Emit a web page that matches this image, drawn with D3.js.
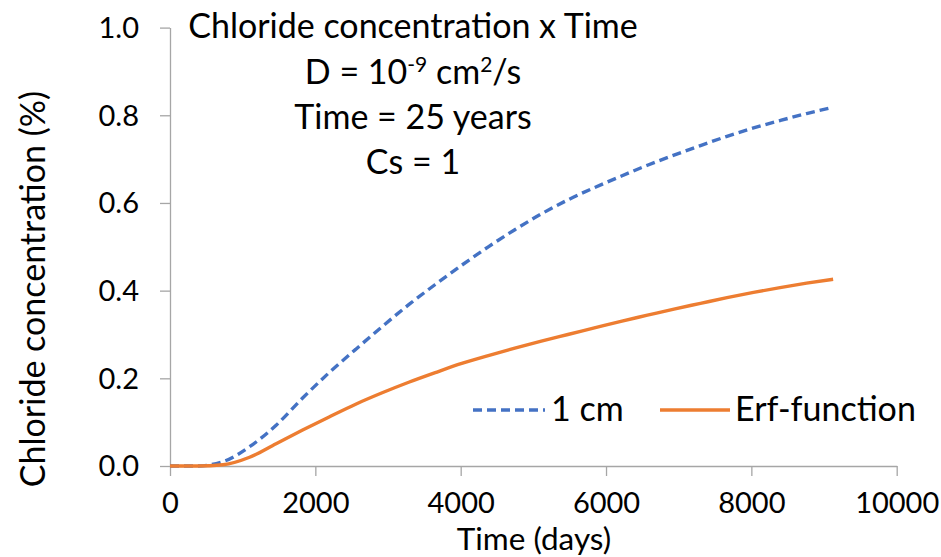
<!DOCTYPE html>
<html>
<head>
<meta charset="utf-8">
<script src="https://cdn.jsdelivr.net/npm/d3@7/dist/d3.min.js"></script>
<style>
  html, body { margin: 0; padding: 0; background: #fff; }
  svg { display: block; }
  text { font-family: Lato, "Open Sans", sans-serif; fill: #000; }
</style>
</head>
<body>
<svg id="chart" width="941" height="557"></svg>
<script>
// Exposure time in days (one reading per year, 0–25 years)
const days = [0, 365, 730, 1095, 1460, 1825, 2190, 2555, 2920, 3285, 3650, 4015, 4380,
  4745, 5110, 5475, 5840, 6205, 6570, 6935, 7300, 7665, 8030, 8395, 8760, 9125];

// Chloride concentration at 1 cm depth (numerical model)
const conc1cm = [0, 0.000, 0.010, 0.044, 0.093, 0.155, 0.213, 0.266, 0.318, 0.368, 0.414, 0.458, 0.500,
  0.539, 0.575, 0.607, 0.635, 0.661, 0.686, 0.709, 0.731, 0.752, 0.771, 0.788, 0.804, 0.818];

// Chloride concentration from the error-function solution
const concErf = [0, 0.000, 0.003, 0.020, 0.051, 0.082, 0.112, 0.141, 0.167, 0.191, 0.213, 0.234, 0.252,
  0.269, 0.285, 0.300, 0.315, 0.330, 0.344, 0.358, 0.371, 0.384, 0.396, 0.407, 0.417, 0.426];

const xTicks = [0, 2000, 4000, 6000, 8000, 10000];
const yTicks = [0, 0.2, 0.4, 0.6, 0.8, 1.0];

const seriesNames = ["1 cm", "Erf-function"];
const seriesColors = ["#4472C4", "#ED7D31"];

const svg = d3.select("#chart");

const x = d3.scaleLinear().domain([0, 10000]).range([170, 896.7]);
const y = d3.scaleLinear().domain([0, 1]).range([466, 27.6]);

const axisColor = "#a6a6a6";

// X axis
const gx = svg.append("g").attr("transform", `translate(0,${y(0)})`)
  .call(d3.axisBottom(x).tickValues(xTicks).tickSize(10).tickSizeOuter(0).tickPadding(8).tickFormat(d3.format("d")));
gx.select(".domain").attr("stroke", axisColor).attr("stroke-width", 1.3);
gx.selectAll(".tick line").attr("stroke", axisColor).attr("stroke-width", 1.3);
gx.selectAll(".tick text").attr("font-size", 29).attr("font-family", "Lato").attr("fill", "#000")
  .attr("dy", null).attr("y", 47);

// Y axis
const gy = svg.append("g").attr("transform", `translate(${x(0)},0)`)
  .call(d3.axisLeft(y).tickValues(yTicks).tickSize(10).tickSizeOuter(0).tickPadding(21).tickFormat(d3.format(".1f")));
gy.select(".domain").attr("stroke", axisColor).attr("stroke-width", 1.3);
gy.selectAll(".tick line").attr("stroke", axisColor).attr("stroke-width", 1.3);
gy.selectAll(".tick text").attr("font-size", 29).attr("font-family", "Lato").attr("fill", "#000")
  .attr("dy", "0.34em");

// Series lines
const line = d3.line().x(d => x(d[0])).y(d => y(d[1])).curve(d3.curveMonotoneX);

const series = [conc1cm, concErf];
series.forEach((vals, i) => {
  svg.append("path")
    .datum(days.map((d, k) => [d, vals[k]]))
    .attr("fill", "none")
    .attr("stroke", seriesColors[i])
    .attr("stroke-width", 3.4)
    .attr("stroke-dasharray", i === 0 ? "9,5" : null)
    .attr("stroke-linejoin", "round")
    .attr("d", line);
});

// Annotation block
const noteSize = 34;
svg.append("text").attr("text-anchor", "middle").attr("font-size", noteSize)
  .attr("x", 413).attr("y", 38).text("Chloride concentration x Time");
const l2 = svg.append("text").attr("text-anchor", "middle").attr("font-size", noteSize).attr("x", 413).attr("y", 84);
l2.append("tspan").text("D = 10");
l2.append("tspan").attr("dy", -12).attr("font-size", 21).text("-9");
l2.append("tspan").attr("dy", 12).text(" cm");
l2.append("tspan").attr("dy", -12).attr("font-size", 21).text("2");
l2.append("tspan").attr("dy", 12).text("/s");
svg.append("text").attr("text-anchor", "middle").attr("font-size", noteSize)
  .attr("x", 413).attr("y", 129).text("Time = 25 years");
svg.append("text").attr("text-anchor", "middle").attr("font-size", noteSize)
  .attr("x", 413).attr("y", 174).text("Cs = 1");

// Axis titles
svg.append("text").attr("text-anchor", "middle").attr("font-size", 31.5)
  .attr("x", 534).attr("y", 550).text("Time (days)");
svg.append("text").attr("text-anchor", "middle").attr("font-size", 34)
  .attr("transform", "translate(45,289) rotate(-90)").text("Chloride concentration (%)");

// Legend
const legend = [
  { x0: 473, x1: 545, tx: 551 },
  { x0: 660, x1: 730, tx: 735 }
];
legend.forEach((lg, i) => {
  svg.append("line").attr("x1", lg.x0).attr("x2", lg.x1).attr("y1", 410).attr("y2", 410)
    .attr("stroke", seriesColors[i]).attr("stroke-width", 3.4)
    .attr("stroke-dasharray", i === 0 ? "9,5" : null);
  svg.append("text").attr("x", lg.tx).attr("y", 421).attr("font-size", 34).text(seriesNames[i]);
});
</script>
</body>
</html>
